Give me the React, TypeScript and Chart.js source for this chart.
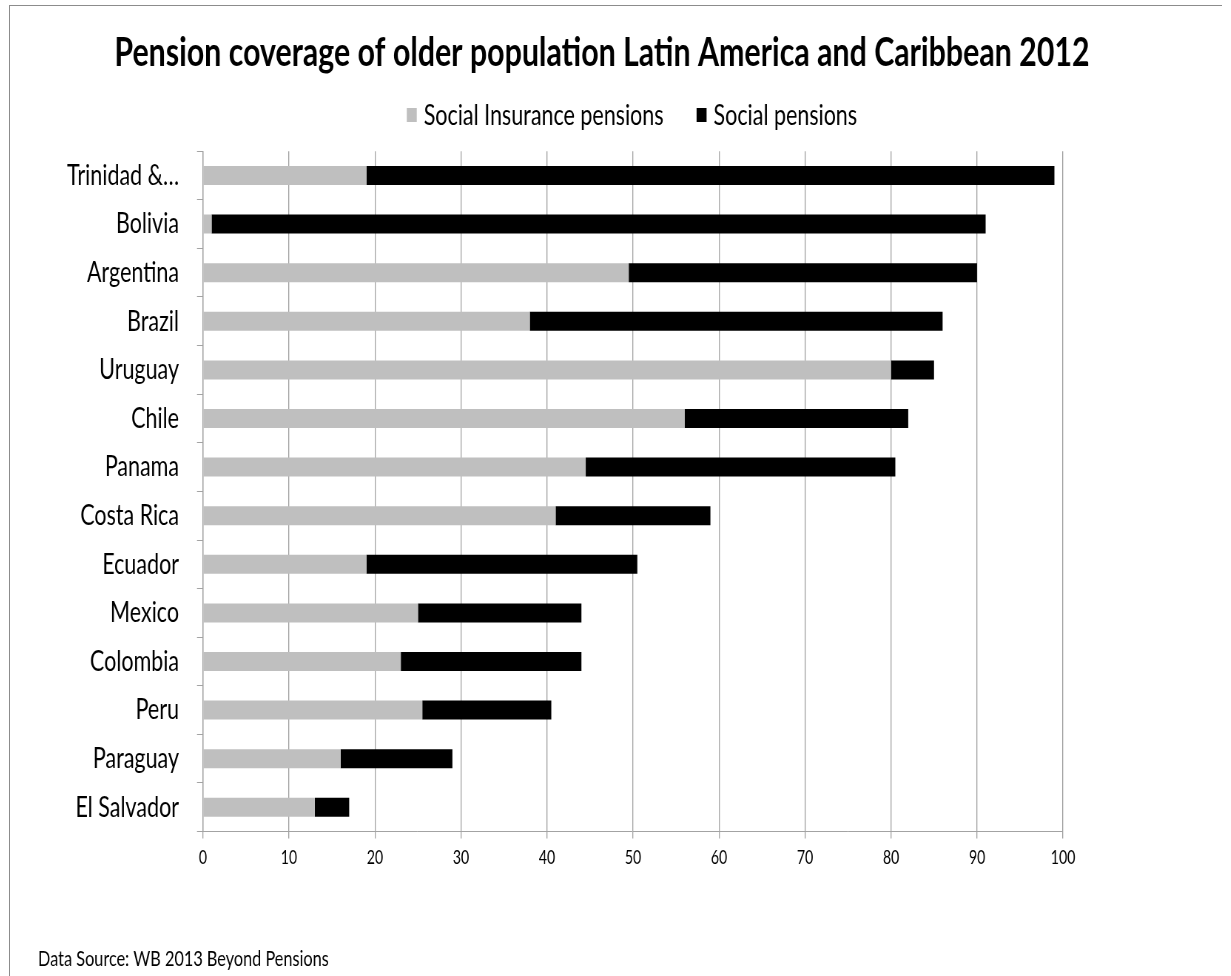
import React, { useEffect, useRef } from 'react';
import { Chart, registerables } from 'chart.js';

Chart.register(...registerables);

// Countries, top to bottom
const countries = [
  'Trinidad &…',
  'Bolivia',
  'Argentina',
  'Brazil',
  'Uruguay',
  'Chile',
  'Panama',
  'Costa Rica',
  'Ecuador',
  'Mexico',
  'Colombia',
  'Peru',
  'Paraguay',
  'El Salvador',
];

// Coverage (% of older population)
const socialInsurance = [19, 1, 49.5, 38, 80, 56, 44.5, 41, 19, 25, 23, 25.5, 16, 13];
const socialPensions = [80, 90, 40.5, 48, 5, 26, 36, 18, 31.5, 19, 21, 15, 13, 4];

const seriesNames = ['Social Insurance pensions', 'Social pensions'];
const seriesColors = ['#bfbfbf', '#000000'];

const axisMin = 0;
const axisMax = 100;
const axisStep = 10;

const titleText = 'Pension coverage of older population Latin America and Caribbean 2012';
const sourceText = 'Data Source: WB 2013 Beyond Pensions';

// The drawing is rendered wide and shown horizontally compressed (narrow lettering).
const SQUEEZE = 0.74;
const VIEW_W = 1212;
const VIEW_H = 970;
const CANVAS_W = Math.round(VIEW_W / SQUEEZE);
const hx = (v: number) => v / SQUEEZE; // on-screen horizontal px -> canvas px

const FONT = 'Lato, "Open Sans", sans-serif';
const GRID = '#a3a3a3';

// Centres the title over its own spot
const recenterTitle = {
  id: 'recenterTitle',
  afterLayout(chart: any) {
    const t = chart.titleBlock;
    if (!t) return;
    const half = (t.right - t.left) / 2;
    const c = hx(592);
    t.left = c - half;
    t.right = c + half;
  },
};

// Legend row with small square keys
const keyRow = {
  id: 'keyRow',
  afterDraw(chart: any) {
    const ctx = chart.ctx as CanvasRenderingContext2D;
    const sets = chart.data.datasets;
    ctx.save();
    ctx.font = `29px ${FONT}`;
    ctx.textBaseline = 'middle';
    ctx.textAlign = 'left';
    const box = hx(10);
    const gap = hx(7);
    const itemGap = hx(33);
    const widths = sets.map((d: any) => ctx.measureText(d.label).width);
    let total = 0;
    sets.forEach((_: any, i: number) => {
      total += box + gap + widths[i];
    });
    total += itemGap * (sets.length - 1);
    let x = hx(622) - total / 2;
    const cy = 109;
    sets.forEach((d: any, i: number) => {
      ctx.fillStyle = d.backgroundColor;
      ctx.fillRect(x, cy - 7, box, 14);
      x += box + gap;
      ctx.fillStyle = '#000';
      ctx.fillText(d.label, x, cy + 1);
      x += widths[i] + itemGap;
    });
    ctx.restore();
  },
};

export default function App() {
  const ref = useRef<HTMLCanvasElement | null>(null);

  useEffect(() => {
    const canvas = ref.current;
    if (!canvas) return;
    const chart = new Chart(canvas, {
      type: 'bar',
      data: {
        labels: countries,
        datasets: [
          {
            label: seriesNames[0],
            data: socialInsurance,
            backgroundColor: seriesColors[0],
            borderWidth: 0,
            barPercentage: 0.39,
            categoryPercentage: 1,
          },
          {
            label: seriesNames[1],
            data: socialPensions,
            backgroundColor: seriesColors[1],
            borderWidth: 0,
            barPercentage: 0.39,
            categoryPercentage: 1,
          },
        ],
      },
      options: {
        indexAxis: 'y',
        responsive: false,
        animation: false,
        devicePixelRatio: 1,
        layout: {
          padding: { left: hx(28), right: hx(159), top: 0, bottom: 0 },
        },
        plugins: {
          legend: { display: false },
          tooltip: { enabled: false },
          title: {
            display: true,
            text: titleText,
            color: '#000',
            font: { family: FONT, size: 41, weight: 'bold' },
            padding: { top: 22, bottom: 74 },
          },
          subtitle: {
            display: true,
            text: sourceText,
            position: 'bottom',
            align: 'start',
            color: '#000',
            font: { family: FONT, size: 22 },
            padding: { top: 54, bottom: 4 },
          },
        },
        scales: {
          x: {
            stacked: true,
            min: axisMin,
            max: axisMax,
            ticks: {
              stepSize: axisStep,
              color: '#000',
              font: { family: FONT, size: 19 },
              padding: 8,
              maxRotation: 0,
            },
            grid: {
              color: GRID,
              lineWidth: hx(1),
              tickLength: 7,
              drawTicks: true,
            },
            border: { display: true, color: GRID, width: 1 },
            afterFit: (s: any) => {
              s.height = 60;
            },
          },
          y: {
            stacked: true,
            ticks: {
              color: '#000',
              font: { family: FONT, size: 29 },
              padding: hx(18),
            },
            grid: {
              color: GRID,
              lineWidth: 1,
              drawOnChartArea: false,
              drawTicks: true,
              tickLength: hx(6),
              offset: true,
            },
            border: { display: true, color: GRID, width: hx(1) },
            afterFit: (s: any) => {
              s.width = hx(203 - 38);
            },
          },
        },
      },
      plugins: [recenterTitle, keyRow],
    });
    return () => chart.destroy();
  }, []);

  return (
    <div
      style={{
        position: 'absolute',
        left: 9,
        top: 5,
        width: VIEW_W,
        height: VIEW_H,
        borderTop: '1px solid #8c8c8c',
        borderLeft: '1px solid #8c8c8c',
        background: '#fff',
        overflow: 'hidden',
      }}
    >
      <canvas
        ref={ref}
        width={CANVAS_W}
        height={VIEW_H}
        style={{ width: `${VIEW_W}px`, height: `${VIEW_H}px`, display: 'block' }}
      />
    </div>
  );
}
